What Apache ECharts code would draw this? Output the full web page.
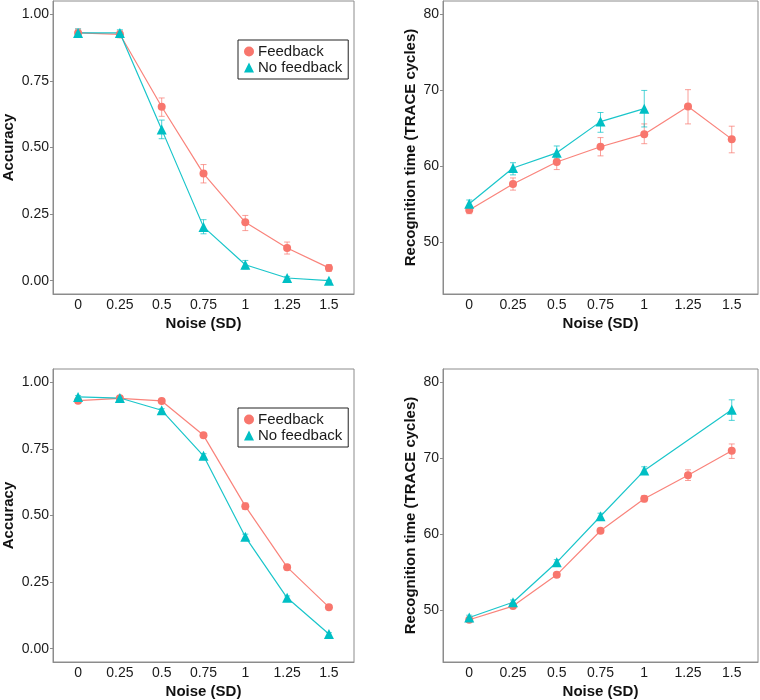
<!DOCTYPE html>
<html>
<head>
<meta charset="utf-8">
<script src="https://cdn.jsdelivr.net/npm/echarts@6/dist/echarts.min.js"></script>
<style>
html,body{margin:0;padding:0;background:#fff;}
#c{width:760px;height:700px;}
</style>
</head>
<body>
<div id="c"></div>
<script>
// ---- data ----
const noiseLevels = [0, 0.25, 0.5, 0.75, 1, 1.25, 1.5];
const noiseLabels = ['0', '0.25', '0.5', '0.75', '1', '1.25', '1.5'];
const accTicks = ['0.00', '0.25', '0.50', '0.75', '1.00'];
const rtTicks = ['50', '60', '70', '80'];

// Panel A (top-left): accuracy
const fbAcc1 = [0.930, 0.925, 0.653, 0.402, 0.219, 0.123, 0.048];
const fbAcc1Lo = [0.915, 0.912, 0.617, 0.367, 0.188, 0.100, 0.035];
const fbAcc1Hi = [0.945, 0.938, 0.686, 0.436, 0.245, 0.145, 0.060];
const nfAcc1 = [0.930, 0.930, 0.568, 0.202, 0.060, 0.010, 0.000];
const nfAcc1Lo = [0.915, 0.918, 0.533, 0.176, 0.044, 0.004, -0.002];
const nfAcc1Hi = [0.945, 0.942, 0.603, 0.229, 0.076, 0.016, 0.002];

// Panel B (top-right): recognition time
const fbRt1 = [54.3, 57.7, 60.6, 62.6, 64.25, 67.9, 63.6];
const fbRt1Lo = [53.8, 56.9, 59.6, 61.4, 63.0, 65.6, 61.8];
const fbRt1Hi = [54.8, 58.5, 61.4, 63.8, 65.6, 70.1, 65.3];
const nfRt1 = [55.1, 59.8, 61.8, 65.9, 67.6, null, null];
const nfRt1Lo = [54.6, 58.9, 61.1, 64.5, 65.2, null, null];
const nfRt1Hi = [55.6, 60.5, 62.7, 67.1, 70.0, null, null];

// Panel C (bottom-left): accuracy
const fbAcc2 = [0.931, 0.940, 0.930, 0.801, 0.535, 0.306, 0.156];
const fbAcc2Lo = [0.926, 0.935, 0.925, 0.795, 0.523, 0.296, 0.150];
const fbAcc2Hi = [0.936, 0.945, 0.935, 0.807, 0.547, 0.316, 0.162];
const nfAcc2 = [0.945, 0.941, 0.895, 0.724, 0.420, 0.191, 0.055];
const nfAcc2Lo = [0.940, 0.936, 0.889, 0.716, 0.410, 0.184, 0.050];
const nfAcc2Hi = [0.950, 0.946, 0.901, 0.732, 0.430, 0.198, 0.060];

// Panel D (bottom-right): recognition time
const fbRt2 = [48.8, 50.6, 54.7, 60.5, 64.7, 67.8, 71.0];
const fbRt2Lo = [48.5, 50.3, 54.4, 60.2, 64.3, 67.1, 70.0];
const fbRt2Hi = [49.1, 50.9, 55.0, 60.8, 65.1, 68.5, 71.9];
const nfRt2 = [49.1, 51.1, 56.35, 62.4, 68.4, null, 76.4];
const nfRt2Lo = [48.8, 50.8, 56.0, 62.0, 67.9, null, 75.0];
const nfRt2Hi = [49.4, 51.4, 56.7, 62.8, 68.9, null, 77.7];

// ---- styling ----
const RED = '#F8766D';
const TEAL = '#00BFC4';
const FONT = 'Liberation Sans, Arial, Helvetica, sans-serif';
const BORDER = '#8c8c8c';

const grids = [
  {left: 52, top: 1, width: 302, height: 293},
  {left: 443, top: 1, width: 315, height: 293},
  {left: 52, top: 369, width: 302, height: 293},
  {left: 443, top: 369, width: 315, height: 293}
].map(g => Object.assign(g, {show: true, borderColor: BORDER, borderWidth: 1, backgroundColor: '#fff'}));

function xAxis(i) {
  return {
    type: 'value', gridIndex: i, min: -0.15, max: 1.65,
    minInterval: 0.25, maxInterval: 0.25,
    name: 'Noise (SD)', nameLocation: 'middle', nameGap: 22,
    nameTextStyle: {fontFamily: FONT, fontSize: 15, fontWeight: 'bold', color: '#111'},
    axisLine: {show: true, onZero: false, lineStyle: {color: BORDER}},
    axisTick: {show: false},
    splitLine: {show: false},
    axisLabel: {
      showMinLabel: false, showMaxLabel: false, margin: 4,
      fontFamily: FONT, fontSize: 14, color: '#1a1a1a',
      formatter: v => {
        const k = noiseLevels.findIndex(n => Math.abs(n - v) < 1e-6);
        return k >= 0 ? noiseLabels[k] : '';
      }
    }
  };
}

function yAxis(i, acc) {
  const ticks = acc ? accTicks : rtTicks;
  return {
    type: 'value', gridIndex: i,
    min: acc ? -0.05 : 43.25, max: acc ? 1.05 : 81.75,
    minInterval: acc ? 0.25 : 10, maxInterval: acc ? 0.25 : 10,
    name: acc ? 'Accuracy' : 'Recognition time (TRACE cycles)',
    nameLocation: 'middle', nameGap: acc ? 37 : 25,
    nameTextStyle: {fontFamily: FONT, fontSize: 15, fontWeight: 'bold', color: '#111'},
    axisLine: {show: true, onZero: false, lineStyle: {color: BORDER}},
    axisTick: {show: true, length: 3, lineStyle: {color: BORDER}},
    splitLine: {show: false},
    axisLabel: {
      showMinLabel: false, showMaxLabel: false, margin: 4,
      fontFamily: FONT, fontSize: 14, color: '#1a1a1a',
      formatter: v => {
        const k = ticks.findIndex(t => Math.abs(parseFloat(t) - v) < 1e-6);
        return k >= 0 ? ticks[k] : '';
      }
    }
  };
}

function pts(vals) {
  const out = [];
  vals.forEach((v, k) => { if (v !== null) out.push([noiseLevels[k], v]); });
  return out;
}
function bars(lo, hi) {
  const out = [];
  lo.forEach((v, k) => { if (v !== null && hi[k] !== null) out.push([noiseLevels[k], v, hi[k]]); });
  return out;
}

function errSeries(i, lo, hi, color) {
  return {
    type: 'custom', gridIndex: i, xAxisIndex: i, yAxisIndex: i,
    silent: true, z: 1,
    encode: {x: 0, y: [1, 2]},
    data: bars(lo, hi),
    renderItem: (params, api) => {
      const x = api.value(0);
      const a = api.coord([x, api.value(2)]);
      const b = api.coord([x, api.value(1)]);
      const hw = 3;
      const st = {stroke: color, lineWidth: 1, opacity: 0.7};
      return {
        type: 'group',
        children: [
          {type: 'line', shape: {x1: a[0], y1: a[1], x2: b[0], y2: b[1]}, style: st},
          {type: 'line', shape: {x1: a[0] - hw, y1: a[1], x2: a[0] + hw, y2: a[1]}, style: st},
          {type: 'line', shape: {x1: b[0] - hw, y1: b[1], x2: b[0] + hw, y2: b[1]}, style: st}
        ]
      };
    }
  };
}

function lineSeries(i, name, vals, color, symbol, size) {
  return {
    type: 'line', name: name, xAxisIndex: i, yAxisIndex: i,
    data: pts(vals), symbol: symbol, symbolSize: size,
    connectNulls: true, z: 2,
    itemStyle: {color: color, opacity: 1},
    lineStyle: {color: color, width: 1.2, opacity: 0.9},
    emphasis: {disabled: true},
    animation: false
  };
}

const panels = [
  [fbAcc1, fbAcc1Lo, fbAcc1Hi, nfAcc1, nfAcc1Lo, nfAcc1Hi],
  [fbRt1, fbRt1Lo, fbRt1Hi, nfRt1, nfRt1Lo, nfRt1Hi],
  [fbAcc2, fbAcc2Lo, fbAcc2Hi, nfAcc2, nfAcc2Lo, nfAcc2Hi],
  [fbRt2, fbRt2Lo, fbRt2Hi, nfRt2, nfRt2Lo, nfRt2Hi]
];

const series = [];
panels.forEach((p, i) => {
  series.push(errSeries(i, p[1], p[2], RED));
  series.push(errSeries(i, p[4], p[5], TEAL));
  series.push(lineSeries(i, 'Feedback', p[0], RED, 'circle', 8));
  series.push(lineSeries(i, 'No feedback', p[3], TEAL, 'triangle', 10));
});

function legend(top) {
  return {
    left: 238, top: top, orient: 'vertical',
    padding: [4, 6, 4, 6], itemGap: 1,
    itemWidth: 10, itemHeight: 10,
    borderColor: '#222', borderWidth: 1, backgroundColor: '#fff',
    selectedMode: false,
    textStyle: {fontFamily: FONT, fontSize: 15, color: '#1a1a1a', padding: [0, 0, 0, -1]},
    data: [{name: 'Feedback', icon: 'circle'}, {name: 'No feedback', icon: 'triangle'}]
  };
}

const chart = echarts.init(document.getElementById('c'), null, {renderer: 'canvas'});
chart.setOption({
  animation: false,
  backgroundColor: '#fff',
  grid: grids,
  xAxis: [0, 1, 2, 3].map(xAxis),
  yAxis: [yAxis(0, true), yAxis(1, false), yAxis(2, true), yAxis(3, false)],
  legend: [legend(40), legend(408)],
  series: series
});
</script>
</body>
</html>
